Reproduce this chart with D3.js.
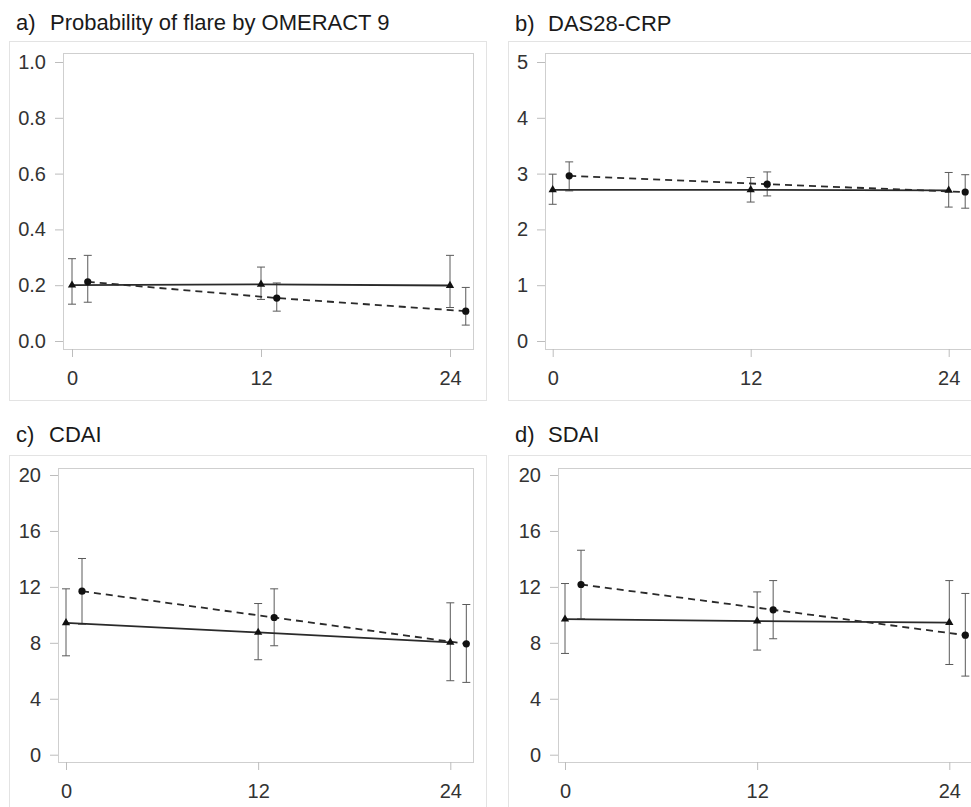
<!DOCTYPE html>
<html>
<head>
<meta charset="utf-8">
<script src="https://cdn.jsdelivr.net/npm/d3@7"></script>
<style>
  html, body { margin: 0; padding: 0; background: #fff; }
  svg { display: block; }
</style>
</head>
<body>
<script>
// ---------------- DATA ----------------
const letters = ["a)", "b)", "c)", "d)"];
const titles = ["Probability of flare by OMERACT 9", "DAS28-CRP", "CDAI", "SDAI"];
const xTicks = [0, 12, 24];
const xSolid = [0, 12, 24];
const xDashed = [1, 13, 25];

const yTicksA = [0, 0.2, 0.4, 0.6, 0.8, 1.0];
const yTicksB = [0, 1, 2, 3, 4, 5];
const yTicksC = [0, 4, 8, 12, 16, 20];
const yTicksD = [0, 4, 8, 12, 16, 20];

// a) Probability of flare
const solidMeanA = [0.200, 0.203, 0.199];
const solidLowA  = [0.132, 0.149, 0.120];
const solidHighA = [0.295, 0.265, 0.307];
const dashMeanA  = [0.212, 0.154, 0.107];
const dashLowA   = [0.139, 0.107, 0.057];
const dashHighA  = [0.307, 0.208, 0.192];

// b) DAS28-CRP
const solidMeanB = [2.71, 2.71, 2.70];
const solidLowB  = [2.45, 2.49, 2.40];
const solidHighB = [2.99, 2.93, 3.02];
const dashMeanB  = [2.96, 2.81, 2.67];
const dashLowB   = [2.69, 2.60, 2.38];
const dashHighB  = [3.21, 3.03, 2.98];

// c) CDAI
const solidMeanC = [9.43, 8.74, 8.03];
const solidLowC  = [7.07, 6.79, 5.29];
const solidHighC = [11.86, 10.81, 10.86];
const dashMeanC  = [11.69, 9.81, 7.93];
const dashLowC   = [9.33, 7.79, 5.17];
const dashHighC  = [14.03, 11.86, 10.74];

// d) SDAI
const solidMeanD = [9.69, 9.55, 9.45];
const solidLowD  = [7.24, 7.48, 6.45];
const solidHighD = [12.24, 11.64, 12.45];
const dashMeanD  = [12.17, 10.36, 8.55];
const dashLowD   = [9.71, 8.29, 5.62];
const dashHighD  = [14.62, 12.45, 11.53];

// ---------------- ASSEMBLY ----------------
const panels = [
  { yTicks: yTicksA, yMax: 1, fmt: d3.format(".1f"),
    solid: [solidMeanA, solidLowA, solidHighA], dashed: [dashMeanA, dashLowA, dashHighA] },
  { yTicks: yTicksB, yMax: 5, fmt: d3.format("d"),
    solid: [solidMeanB, solidLowB, solidHighB], dashed: [dashMeanB, dashLowB, dashHighB] },
  { yTicks: yTicksC, yMax: 20, fmt: d3.format("d"),
    solid: [solidMeanC, solidLowC, solidHighC], dashed: [dashMeanC, dashLowC, dashHighC] },
  { yTicks: yTicksD, yMax: 20, fmt: d3.format("d"),
    solid: [solidMeanD, solidLowD, solidHighD], dashed: [dashMeanD, dashLowD, dashHighD] }
];

// layout (pixels)
const layouts = [
  { outer: [9, 41, 486, 400], plot: [63, 53, 473, 349], x0: 72, x24: 450, y0: 341, yTop: 62,
    lx: 16, tx: 50, ty: 30, xly: 385 },
  { outer: [508, 41, 1000, 400], plot: [545, 53, 1000, 349], x0: 552.7, x24: 948.7, y0: 341, yTop: 62,
    lx: 515, tx: 548, ty: 30.5, xly: 385 },
  { outer: [9, 455, 486, 840], plot: [58, 468, 473, 762], x0: 66, x24: 450.3, y0: 754.7, yTop: 475,
    lx: 16, tx: 49, ty: 441.5, xly: 798 },
  { outer: [508, 455, 1000, 840], plot: [558, 468, 1000, 762], x0: 565, x24: 949.3, y0: 754.7, yTop: 475,
    lx: 515, tx: 548, ty: 441.5, xly: 798 }
];

const W = 971, H = 807;
const svg = d3.select("body").append("svg")
  .attr("width", W).attr("height", H)
  .attr("viewBox", `0 0 ${W} ${H}`);
svg.append("rect").attr("width", W).attr("height", H).attr("fill", "#fff");

const FONT = "'Liberation Sans', Arial, Helvetica, sans-serif";

panels.forEach((p, i) => {
  const L = layouts[i];
  const g = svg.append("g");

  // outer frame
  g.append("rect")
    .attr("x", L.outer[0] + 0.5).attr("y", L.outer[1] + 0.5)
    .attr("width", L.outer[2] - L.outer[0]).attr("height", L.outer[3] - L.outer[1])
    .attr("fill", "#fff").attr("stroke", "#e3e3e3").attr("stroke-width", 1);

  // title
  g.append("text").attr("x", L.lx).attr("y", L.ty)
    .attr("font-family", FONT).attr("font-size", 22).attr("fill", "#1a1a1a")
    .text(letters[i]);
  g.append("text").attr("x", L.tx).attr("y", L.ty)
    .attr("font-family", FONT).attr("font-size", 22).attr("fill", "#1a1a1a")
    .text(titles[i]);

  const x = d3.scaleLinear().domain([0, 24]).range([L.x0, L.x24]);
  const y = d3.scaleLinear().domain([0, p.yMax]).range([L.y0, L.yTop]);

  // plot frame
  g.append("rect")
    .attr("x", L.plot[0] + 0.5).attr("y", L.plot[1] + 0.5)
    .attr("width", L.plot[2] - L.plot[0]).attr("height", L.plot[3] - L.plot[1])
    .attr("fill", "#fff").attr("stroke", "#cfcfcf").attr("stroke-width", 1);

  // y axis
  const yAxis = d3.axisLeft(y).tickValues(p.yTicks).tickFormat(p.fmt)
    .tickSize(8).tickPadding(9);
  const ya = g.append("g").attr("transform", `translate(${L.plot[0]},0)`).call(yAxis);
  ya.select(".domain").remove();
  ya.selectAll(".tick line").attr("stroke", "#bdbdbd");
  ya.selectAll(".tick text").attr("font-family", FONT).attr("font-size", 20)
    .attr("fill", "#333");

  // x axis
  const xAxis = d3.axisBottom(x).tickValues(xTicks).tickFormat(d3.format("d"))
    .tickSize(8).tickPadding(0);
  const xa = g.append("g").attr("transform", `translate(0,${L.plot[3]})`).call(xAxis);
  xa.select(".domain").remove();
  xa.selectAll(".tick line").attr("stroke", "#bdbdbd");
  xa.selectAll(".tick text").attr("font-family", FONT).attr("font-size", 20)
    .attr("fill", "#333").attr("dy", null).attr("y", L.xly - L.plot[3]);

  const series = [
    { xs: xSolid, d: p.solid, dash: null, marker: "tri" },
    { xs: xDashed, d: p.dashed, dash: "7,5", marker: "circ" }
  ];

  // error bars
  series.forEach(s => {
    const pts = s.xs.map((xv, k) => ({ x: xv, m: s.d[0][k], lo: s.d[1][k], hi: s.d[2][k] }));
    const eb = g.append("g").attr("stroke", "#5a5a5a").attr("stroke-width", 1).attr("fill", "none");
    pts.forEach(pt => {
      const cx = x(pt.x);
      eb.append("line").attr("x1", cx).attr("x2", cx).attr("y1", y(pt.lo)).attr("y2", y(pt.hi));
      eb.append("line").attr("x1", cx - 4).attr("x2", cx + 4).attr("y1", y(pt.lo)).attr("y2", y(pt.lo));
      eb.append("line").attr("x1", cx - 4).attr("x2", cx + 4).attr("y1", y(pt.hi)).attr("y2", y(pt.hi));
    });
    s.pts = pts;
  });

  // lines
  series.forEach(s => {
    const line = d3.line().x(d => x(d.x)).y(d => y(d.m));
    g.append("path").datum(s.pts).attr("d", line)
      .attr("fill", "none").attr("stroke", "#2a2a2a").attr("stroke-width", 1.8)
      .attr("stroke-dasharray", s.dash);
  });

  // markers
  const tri = d3.symbol().type(d3.symbolTriangle).size(30);
  series.forEach(s => {
    s.pts.forEach(pt => {
      if (s.marker === "tri") {
        g.append("path").attr("d", tri)
          .attr("transform", `translate(${x(pt.x)},${y(pt.m)})`)
          .attr("fill", "#111");
      } else {
        g.append("circle").attr("cx", x(pt.x)).attr("cy", y(pt.m)).attr("r", 3.6)
          .attr("fill", "#111");
      }
    });
  });
});
</script>
</body>
</html>
